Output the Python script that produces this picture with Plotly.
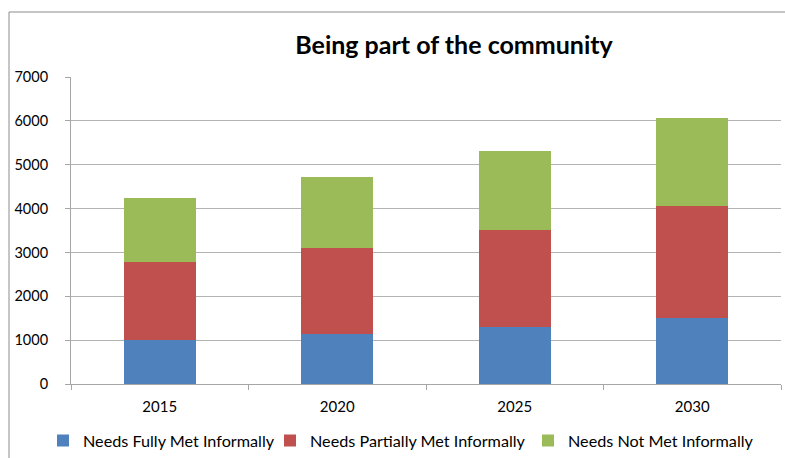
import plotly.graph_objects as go

years = ["2015", "2020", "2025", "2030"]
fully_met = [1010, 1140, 1300, 1510]
partially_met = [1780, 1960, 2210, 2550]
not_met = [1445, 1610, 1795, 2005]
series_names = ["Needs Fully Met Informally", "Needs Partially Met Informally", "Needs Not Met Informally"]
colors = ["#4F81BD", "#C0504D", "#9BBB59"]
legend_ids = ["legend", "legend2", "legend3"]

fig = go.Figure()
for name, vals, c, lg in zip(series_names, [fully_met, partially_met, not_met], colors, legend_ids):
    fig.add_trace(go.Bar(x=years, y=vals, name=name, legend=lg, showlegend=True,
                         marker=dict(color=c, line=dict(width=0))))

W, H = 785, 458
L, R, T, B = 71, 4, 77, 74
pw = W - L - R
ph = H - T - B

def px(x):
    return (x - L) / pw

def py(y):
    return (H - B - y) / ph

def leg(xpix):
    return dict(orientation="h", xref="container", x=xpix / W, xanchor="left",
                yref="container", y=1 - 441 / H, yanchor="middle",
                font=dict(size=16.2), itemwidth=30, bgcolor="rgba(0,0,0,0)")

fig.update_layout(
    width=W, height=H,
    showlegend=True,
    margin=dict(l=L, r=R, t=T, b=B, autoexpand=False),
    barmode="stack",
    bargap=0.594,
    plot_bgcolor="white",
    paper_bgcolor="white",
    font=dict(family="Lato, Open Sans, sans-serif", size=16, color="#000000"),
    title=dict(text="<b>Being part of the community</b>", x=px(454), xref="paper", xanchor="center",
               y=1 - 45 / H, yanchor="middle", font=dict(size=25, color="#000000")),
    xaxis=dict(type="category", showline=True, linecolor="#A6A6A6", linewidth=1,
               ticks="outside", tickson="boundaries", ticklen=5, tickcolor="#A6A6A6",
               showgrid=False, tickfont=dict(size=15), ticklabelstandoff=9),
    yaxis=dict(range=[0, 7000], dtick=1000, showline=True, linecolor="#A6A6A6", linewidth=1,
               ticks="outside", ticklen=5, tickcolor="#A6A6A6",
               showgrid=True, gridcolor="#B3B3B3", gridwidth=1, zeroline=False,
               tickfont=dict(size=14.5), ticklabelstandoff=14),
    legend=leg(43),
    legend2=leg(270),
    legend3=leg(528),
    shapes=[
        dict(type="line", xref="paper", yref="paper", x0=px(9), x1=px(9), y0=py(12), y1=py(470),
             line=dict(color="#8C8C8C", width=1)),
        dict(type="line", xref="paper", yref="paper", x0=px(9), x1=px(800), y0=py(12), y1=py(12),
             line=dict(color="#8C8C8C", width=1)),
    ],
)

fig.write_html("out.html")
